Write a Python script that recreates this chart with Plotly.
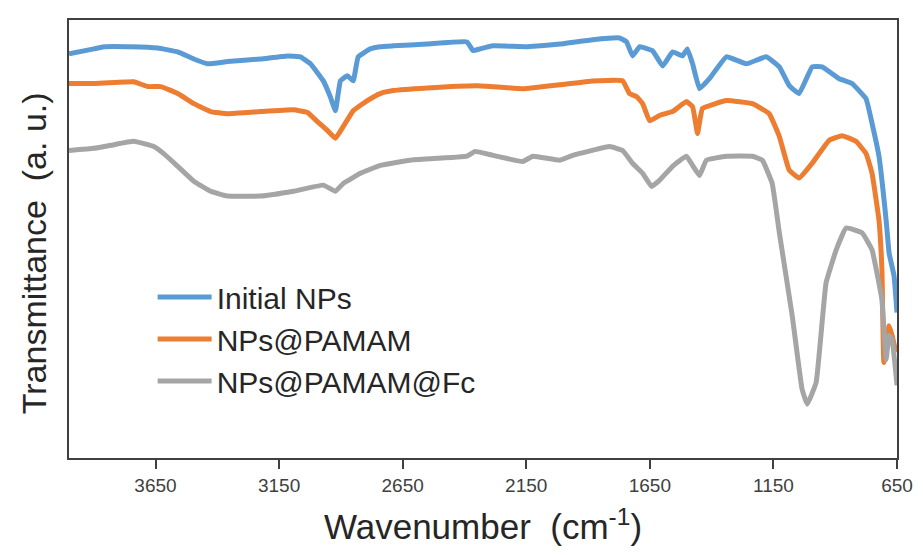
import plotly.graph_objects as go

# Wavenumber (cm-1) and transmittance (a.u.)
wn_initial = [4000, 3899, 3859, 3750, 3641, 3560, 3495, 3439, 3358, 3225, 3116, 3064, 3023, 2971, 2943,
              2922, 2902, 2874, 2850, 2830, 2781, 2741, 2688, 2551, 2390, 2365, 2337, 2285, 2147, 2014,
              1881, 1772, 1744, 1720, 1691, 1639, 1598, 1558, 1518, 1498, 1477, 1449, 1409, 1340, 1260,
              1179, 1126, 1086, 1046, 993, 953, 884, 832, 775, 751, 723, 694, 682, 662, 650]
t_initial = [92.3, 93.4, 93.9, 93.9, 93.6, 92.7, 91.1, 90.0, 90.5, 91.1, 91.8, 91.6, 90.0, 86.1, 82.5,
             79.3, 86.1, 87.3, 86.1, 91.6, 93.4, 93.9, 94.1, 94.5, 95.0, 93.0, 93.4, 94.1, 93.9, 94.5,
             95.5, 95.9, 95.0, 91.8, 93.9, 93.0, 89.5, 92.7, 91.8, 93.4, 90.0, 84.3, 86.6, 91.6, 90.0,
             91.6, 89.3, 85.0, 83.2, 89.3, 89.3, 86.6, 85.5, 82.0, 76.4, 68.9, 54.3, 46.8, 41.6, 33.2]

wn_pamam = [4000, 3899, 3738, 3681, 3629, 3560, 3495, 3427, 3358, 3225, 3092, 3035, 2995, 2955, 2922,
            2890, 2850, 2793, 2741, 2688, 2551, 2349, 2164, 2014, 1881, 1760, 1732, 1703, 1679, 1651,
            1611, 1558, 1502, 1477, 1457, 1437, 1340, 1235, 1167, 1126, 1086, 1046, 993, 925, 872,
            816, 775, 751, 723, 711, 703, 682, 670, 654]
t_pamam = [85.5, 85.5, 85.9, 84.8, 84.8, 83.2, 80.9, 79.1, 78.6, 79.1, 79.5, 78.9, 76.8, 74.8, 73.0,
           75.7, 79.3, 81.6, 83.2, 83.9, 84.5, 85.0, 84.3, 85.2, 86.1, 86.1, 83.2, 82.5, 80.9, 77.0,
           78.2, 79.1, 81.4, 80.2, 74.1, 79.8, 81.6, 80.9, 78.6, 73.4, 65.7, 63.9, 67.3, 72.5, 73.6,
           72.3, 69.5, 65.0, 54.3, 43.0, 21.8, 30.2, 28.0, 24.1]

wn_fc = [4000, 3899, 3830, 3738, 3657, 3617, 3560, 3495, 3427, 3358, 3225, 3092, 2971, 2922, 2890,
         2821, 2741, 2620, 2390, 2357, 2285, 2164, 2123, 2014, 1962, 1812, 1760, 1720, 1679, 1643,
         1611, 1558, 1502, 1477, 1449, 1421, 1340, 1235, 1195, 1155, 1126, 1074, 1034, 1013, 977,
         937, 896, 856, 791, 751, 711, 694, 682, 670, 650]
t_fc = [70.2, 70.7, 71.4, 72.3, 71.1, 69.5, 66.6, 63.2, 60.9, 59.8, 59.8, 60.9, 62.3, 60.9, 62.7,
        65.0, 66.8, 68.0, 68.9, 70.0, 69.1, 67.7, 68.9, 68.0, 69.1, 71.1, 70.2, 67.3, 65.0, 62.0,
        63.4, 66.6, 68.9, 66.8, 64.5, 68.0, 68.9, 68.9, 68.0, 62.7, 51.4, 32.5, 15.7, 12.3, 17.3,
        40.0, 47.5, 52.5, 51.4, 47.5, 36.1, 22.5, 28.0, 27.0, 16.6]

series_names = ["Initial NPs", "NPs@PAMAM", "NPs@PAMAM@Fc"]
series_colors = ["#5B9BD5", "#ED7D31", "#A5A5A5"]
tick_vals = [3650, 3150, 2650, 2150, 1650, 1150, 650]
y_title = "Transmittance  (a. u.)"
x_title = "Wavenumber  (cm<sup>-1</sup>)"

fig = go.Figure()
for wn, t, name, color in zip([wn_initial, wn_pamam, wn_fc], [t_initial, t_pamam, t_fc],
                              series_names, series_colors):
    fig.add_trace(go.Scatter(x=wn, y=t, mode="lines", name=name,
                             line=dict(color=color, width=5, shape="spline", smoothing=0.3)))

axis_col = "#404040"
fig.update_layout(
    width=915, height=547,
    margin=dict(l=61, r=24, t=10, b=97),
    paper_bgcolor="white", plot_bgcolor="white",
    font=dict(family="Liberation Sans, Arial, sans-serif", color="#262626"),
    showlegend=True,
    legend=dict(x=0.101, y=0.427, xanchor="left", yanchor="top",
                bgcolor="rgba(0,0,0,0)", font=dict(size=30, color="#262626"),
                itemwidth=54, tracegroupgap=0),
    xaxis=dict(range=[4000, 650], tickvals=tick_vals, ticks="outside", ticklen=9,
               tickcolor=axis_col, tickwidth=1.5,
               tickfont=dict(size=19, family="Liberation Sans Narrow, Arial Narrow, Liberation Sans, sans-serif",
                             color="#404040"),
               showline=True, linecolor=axis_col, linewidth=2, mirror=True, showgrid=False,
               zeroline=False,
               title=dict(text=x_title, font=dict(size=35, color="#262626"), standoff=20)),
    yaxis=dict(range=[0, 100], showticklabels=False, ticks="",
               showline=True, linecolor=axis_col, linewidth=2, mirror=True, showgrid=False,
               zeroline=False),
    annotations=[dict(text=y_title, xref="paper", yref="paper", x=-0.042, y=0.468,
                      xanchor="center", yanchor="middle", textangle=-90, showarrow=False,
                      font=dict(size=34, color="#262626"))],
)

fig.write_html("out.html")
